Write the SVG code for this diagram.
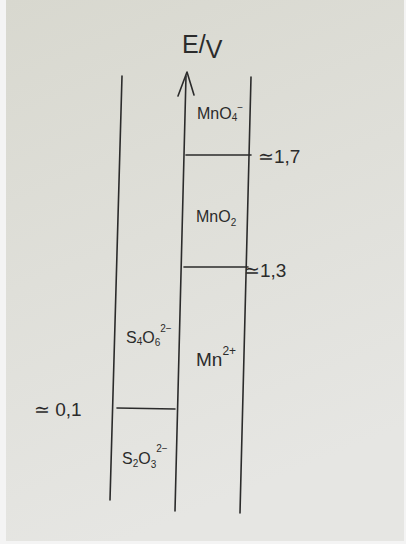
<svg xmlns="http://www.w3.org/2000/svg" width="406" height="544" viewBox="0 0 406 544">
<defs>
<linearGradient id="paper" x1="0" y1="0" x2="0.3" y2="1">
<stop offset="0" stop-color="#d8d8cf"/>
<stop offset="1" stop-color="#e6e6e3"/>
</linearGradient>
<style>
.ln{stroke:#2b2b2b;stroke-width:1.6;fill:none;stroke-linecap:round;stroke-linejoin:round}
.t{font-family:"Liberation Sans",Arial,sans-serif;fill:#2b2b2b;font-size:16px}
.s{font-size:10px}
.v{font-size:19px}
</style>
</defs>
<rect width="406" height="544" fill="#f4f4f4"/>
<rect x="6" y="0" width="398" height="541" fill="url(#paper)"/>
<g id="connectors">
<path class="ln" d="M122,76 L110,500"/>
<path class="ln" d="M186,76 L175,511"/>
<path class="ln" d="M178,96 L187,72 L194,95"/>
<path class="ln" d="M251,77 L240,513"/>
<path class="ln" d="M186,155 L251,155"/>
<path class="ln" d="M184,267 L248,267"/>
<path class="ln" d="M117,408 L175,409"/>
</g>
<g id="axis-label"><text class="t" x="182" y="53" style="font-size:25px">E/<tspan dy="5">V</tspan></text></g>
<g id="MnO4"><text class="t" x="197" y="119">MnO<tspan class="s" dy="2">4</tspan><tspan class="s" dy="-10">−</tspan></text></g>
<g id="v17"><text class="t v" x="258" y="163">≃1,7</text></g>
<g id="MnO2"><text class="t" x="196" y="222">MnO<tspan class="s" dy="4">2</tspan></text></g>
<g id="v13"><text class="t v" x="244" y="277">≃1,3</text></g>
<g id="S4O6"><text class="t" x="126" y="343">S<tspan class="s" dy="2">4</tspan><tspan dy="-2">O</tspan><tspan class="s" dy="3">6</tspan><tspan class="s" dy="-14">2−</tspan></text></g>
<g id="Mn2"><text class="t" x="196" y="366" style="font-size:19px">Mn<tspan class="s" dy="-11" style="font-size:12px">2+</tspan></text></g>
<g id="v01"><text class="t v" x="34" y="416">≃  0,1</text></g>
<g id="S2O3"><text class="t" x="122" y="464">S<tspan class="s" dy="3">2</tspan><tspan dy="-3">O</tspan><tspan class="s" dy="4">3</tspan><tspan class="s" dy="-16">2−</tspan></text></g>
</svg>
